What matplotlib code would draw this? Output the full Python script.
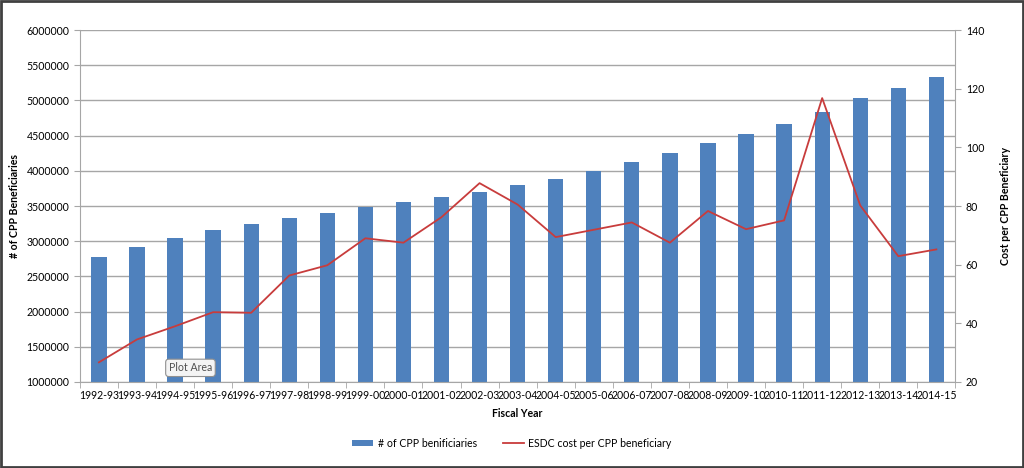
import matplotlib.pyplot as plt
import numpy as np
from matplotlib.patches import Rectangle

plt.rcParams['font.family'] = ['Lato', 'DejaVu Sans']

# Fiscal years
years = ["1992-93", "1993-94", "1994-95", "1995-96", "1996-97", "1997-98",
         "1998-99", "1999-00", "2000-01", "2001-02", "2002-03", "2003-04",
         "2004-05", "2005-06", "2006-07", "2007-08", "2008-09", "2009-10",
         "2010-11", "2011-12", "2012-13", "2013-14", "2014-15"]

# Number of CPP beneficiaries (bars, left axis)
beneficiaries = [2780000, 2920000, 3050000, 3160000, 3250000, 3330000,
                 3400000, 3480000, 3550000, 3630000, 3700000, 3800000,
                 3890000, 4000000, 4130000, 4260000, 4390000, 4530000,
                 4660000, 4830000, 5030000, 5180000, 5330000]

# ESDC cost per CPP beneficiary (line, right axis)
cost = [26.7, 34.5, 39.0, 43.8, 43.6, 56.3, 59.8, 69.0, 67.5, 76.2, 87.8,
        80.5, 69.4, 71.9, 74.4, 67.5, 78.3, 72.1, 75.1, 116.8, 80.2, 62.9, 65.2]

bar_color = '#4f81bd'
line_color = '#c83c3c'
grid_color = '#a6a6a6'

fig = plt.figure(figsize=(10.24, 4.68), dpi=100)
ax = fig.add_axes([0.078, 0.1838, 0.855, 0.752])
x = np.arange(len(years))

ax.bar(x, beneficiaries, width=0.4, color=bar_color, zorder=2,
       label="# of CPP benificiaries")
ax.set_ylim(1000000, 6000000)
ax.set_yticks(np.arange(1000000, 6000001, 500000))
ax.set_yticklabels([str(v) for v in range(1000000, 6000001, 500000)])
ax.set_xlim(-0.5, len(years) - 0.5)
ax.set_xticks(x)
ax.set_xticklabels(years)
ax.set_xticks(np.arange(-0.5, len(years), 1), minor=True)
ax.tick_params(axis='x', which='major', length=0, labelsize=7.6, pad=6)
ax.tick_params(axis='x', which='minor', length=4, color=grid_color)
ax.tick_params(axis='y', length=4, color=grid_color, labelsize=7.6)
ax.grid(axis='y', color=grid_color, linewidth=1, zorder=0)
ax.set_axisbelow(True)
for s in ['top', 'right']:
    ax.spines[s].set_visible(False)
for s in ['left', 'bottom']:
    ax.spines[s].set_color(grid_color)
ax.set_xlabel("Fiscal Year", fontsize=7.6, fontweight='bold', labelpad=5)
ax.set_ylabel("# of CPP Beneficiaries", fontsize=7.6, fontweight='bold')
ax.yaxis.set_label_coords(-0.068, 0.5)

ax2 = ax.twinx()
ax2.plot(x, cost, color=line_color, linewidth=1.3, zorder=3,
         label="ESDC cost per CPP beneficiary")
ax2.set_ylim(20, 140)
ax2.set_yticks(np.arange(20, 141, 20))
ax2.tick_params(axis='y', length=4, color=grid_color, labelsize=7.6)
for s in ['top', 'left', 'bottom']:
    ax2.spines[s].set_visible(False)
ax2.spines['right'].set_color(grid_color)
ax2.set_ylabel("Cost per CPP Beneficiary", fontsize=7.6, fontweight='bold')
ax2.yaxis.set_label_coords(1.051, 0.5)

# legend at the bottom
h1, l1 = ax.get_legend_handles_labels()
h2, l2 = ax2.get_legend_handles_labels()
fig.legend(h1 + h2, l1 + l2, loc='center', bbox_to_anchor=(0.5, 0.053),
           ncol=2, frameon=False, fontsize=7.6, handlelength=2.0,
           handleheight=0.5, handletextpad=0.4, columnspacing=2.5)

# "Plot Area" tooltip from the screenshot
fig.text(0.186, 0.214, "Plot Area", fontsize=7.6, color='#505050',
         ha='center', va='center',
         bbox=dict(boxstyle='round,pad=0.3', fc='#f4f4f4', ec='#909090', lw=0.8))

# outer border
fig.patches.append(Rectangle((0.001, 0.002), 0.998, 0.996, transform=fig.transFigure,
                             fill=False, edgecolor='#404040', linewidth=2))

fig.savefig("out.png", dpi=100)
